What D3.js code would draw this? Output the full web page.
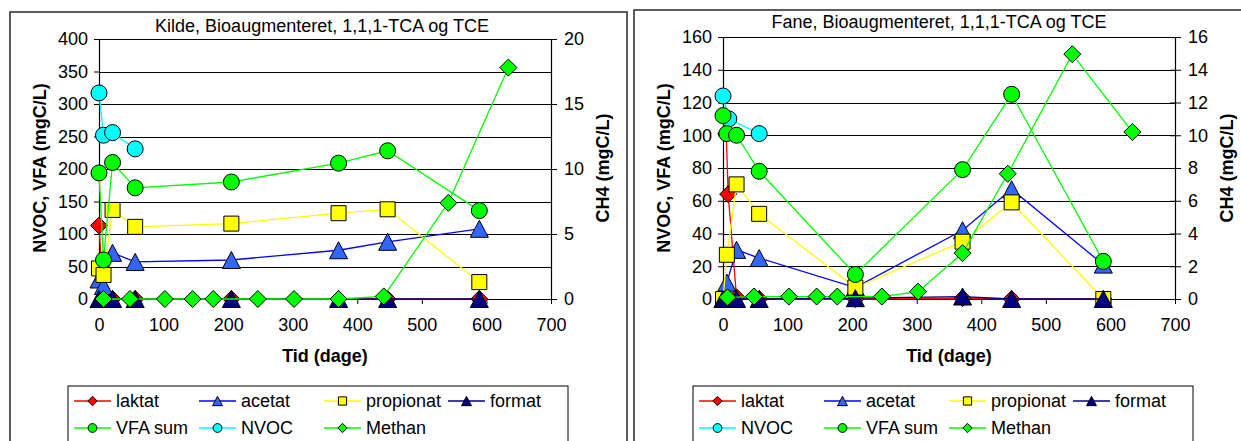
<!DOCTYPE html>
<html>
<head>
<meta charset="utf-8">
<script src="https://cdn.jsdelivr.net/npm/d3@7"></script>
<style>
  html, body { margin: 0; padding: 0; background: #fff; }
  svg { display: block; }
  text { font-family: "Liberation Sans", Arial, sans-serif; fill: #000; }
</style>
</head>
<body>
<div id="chart"></div>
<script>
// ---------------- DATA ----------------
const xTickValues = [0, 100, 200, 300, 400, 500, 600, 700];

// Kilde (left panel)
const kildeDays      = [0, 7, 21, 56, 205, 371, 447, 589];
const kildeLaktat    = [113, 1, 0, 0, 0, 0, 0, 0];
const kildeAcetat    = [30, 20, 71, 57, 60, 75, 88, 108];
const kildePropionat = [47, 37, 137, 111, 116, 132, 138, 26];
const kildeFormat    = [0, 0, 0, 0, 0, 0, 0, 0];
const kildeVFA       = [194, 60, 210, 171, 180, 209, 228, 136];
const kildeNVOCDays  = [0, 7, 21, 56];
const kildeNVOC      = [317, 252, 256, 231];
const kildeMethanDays = [7, 48, 102, 145, 177, 246, 302, 371, 441, 541, 634];
const kildeMethan     = [0, 0, 0, 0, 0, 0, 0, 0, 0.2, 7.4, 17.8];
const kildeYTicks  = [0, 50, 100, 150, 200, 250, 300, 350, 400];
const kildeY2Ticks = [0, 5, 10, 15, 20];

// Fane (right panel)
const faneDays       = [0, 6, 21, 56, 205, 371, 447, 589];
const faneLaktatDays = [5, 8, 21, 56, 205, 371, 447, 589];
const faneLaktat     = [101, 64, 1, 0, 0, 0.5, 0, 0];
const faneAcetat     = [0, 10, 30, 25, 7, 42, 67, 21];
const fanePropionat  = [0, 27, 70, 52, 7, 35, 59, 0];
const faneFormat     = [0, 0, 0, 0, 0.5, 1.5, 0, 0];
const faneNVOCDays   = [0, 9, 56];
const faneNVOC       = [124, 110, 101];
const faneVFA        = [112, 101, 100, 78, 15, 79, 125, 23];
const faneMethanDays = [7, 48, 102, 145, 177, 246, 302, 371, 441, 541, 634];
const faneMethan     = [0.1, 0.15, 0.15, 0.15, 0.15, 0.15, 0.45, 2.8, 7.65, 14.95, 10.2];
const faneYTicks  = [0, 20, 40, 60, 80, 100, 120, 140, 160];
const faneY2Ticks = [0, 2, 4, 6, 8, 10, 12, 14, 16];

// ---------------- STYLES ----------------
const STY = {
  laktat:    { stroke: "#FF0000", fill: "#FF0000", shape: "diamond" },
  acetat:    { stroke: "#0000FF", fill: "#3366FF", shape: "triangle" },
  propionat: { stroke: "#FFFF00", fill: "#FFFF00", shape: "square" },
  format:    { stroke: "#000080", fill: "#000080", shape: "triangle" },
  vfa:       { stroke: "#00FF00", fill: "#00FF00", shape: "circle" },
  nvoc:      { stroke: "#00FFFF", fill: "#00FFFF", shape: "circle" },
  methan:    { stroke: "#00FF00", fill: "#00FF00", shape: "diamond" }
};

const W = 1241, H = 441;
const FS = 18;
const svg = d3.select("#chart").append("svg").attr("width", W).attr("height", H);

function markerPath(shape, big) {
  const s = big ? 1 : 0.55;
  if (shape === "diamond") { const w = 17 * s, h = 17 * s; return `M0,${-h/2}L${w/2},0L0,${h/2}L${-w/2},0Z`; }
  if (shape === "triangle") { const w = 18 * s, h = 17 * s; return `M0,${-h/2}L${w/2},${h/2}L${-w/2},${h/2}Z`; }
  if (shape === "square") { const a = 15 * s; return `M${-a/2},${-a/2}h${a}v${a}h${-a}Z`; }
  const r = 8 * s;
  return `M${r},0A${r},${r},0,1,1,${-r},0A${r},${r},0,1,1,${r},0Z`;
}

function zip(xs, ys) { return xs.map((d, i) => [d, ys[i]]); }

function drawPanel(cfg) {
  const g = svg.append("g");
  const x0 = cfg.plotLeft, x1 = cfg.plotLeft + 452, yTop = cfg.plotTop, yBot = 299;

  // frame
  g.append("rect").attr("x", cfg.frameLeft).attr("y", cfg.frameTop)
    .attr("width", cfg.frameRight - cfg.frameLeft).attr("height", H + 10 - cfg.frameTop)
    .attr("fill", "#fff").attr("stroke", "#333").attr("stroke-width", 1.6);

  const x = d3.scaleLinear().domain([0, 700]).range([x0, x1]);
  const y = d3.scaleLinear().domain([0, d3.max(cfg.yTicks)]).range([yBot, yTop]);
  const y2 = d3.scaleLinear().domain([0, d3.max(cfg.y2Ticks)]).range([yBot, yTop]);

  // gridlines
  g.selectAll(".grid").data(cfg.yTicks.filter(v => v > 0)).enter().append("line")
    .attr("x1", x0).attr("x2", x1).attr("y1", d => Math.round(y(d)) + 0.5).attr("y2", d => Math.round(y(d)) + 0.5)
    .attr("stroke", "#000").attr("stroke-width", 1);

  // left axis
  const ax = g.append("g").attr("transform", `translate(${x0},0)`)
    .call(d3.axisLeft(y).tickValues(cfg.yTicks).tickSizeInner(5).tickSizeOuter(0).tickPadding(6));
  // right axis
  const ax2 = g.append("g").attr("transform", `translate(${x1},0)`)
    .call(d3.axisRight(y2).tickValues(cfg.y2Ticks).tickSizeInner(6).tickSizeOuter(0).tickPadding(7));
  ax2.selectAll(".tick line").attr("x1", -5);
  // bottom axis
  const axb = g.append("g").attr("transform", `translate(0,${yBot})`)
    .call(d3.axisBottom(x).tickValues(xTickValues).tickSizeInner(5).tickSizeOuter(0).tickPadding(14));
  [ax, ax2, axb].forEach(a => {
    a.selectAll("path.domain").attr("stroke", "#000").attr("stroke-width", 1.2);
    a.selectAll(".tick line").attr("stroke", "#000");
    a.selectAll(".tick text").attr("font-size", FS).attr("font-family", '"Liberation Sans", Arial, sans-serif');
  });

  // series
  cfg.series.forEach(s => {
    const sc = s.axis === "y2" ? y2 : y;
    const pts = zip(s.days, s.values);
    const st = STY[s.key];
    g.append("path").datum(pts)
      .attr("d", d3.line().x(d => x(d[0])).y(d => sc(d[1])))
      .attr("fill", "none").attr("stroke", st.stroke).attr("stroke-width", 1.3);
    g.selectAll(null).data(pts).enter().append("path")
      .attr("d", markerPath(st.shape, true))
      .attr("transform", d => `translate(${x(d[0])},${sc(d[1])})`)
      .attr("fill", st.fill).attr("stroke", "#000").attr("stroke-width", 1);
  });

  // titles
  g.append("text").attr("x", cfg.titleX).attr("y", cfg.titleY).attr("text-anchor", "middle")
    .attr("font-size", FS).text(cfg.title);
  g.append("text").attr("x", (x0 + x1) / 2).attr("y", 362).attr("text-anchor", "middle")
    .attr("font-size", FS).attr("font-weight", "bold").text("Tid (dage)");
  g.append("text").attr("transform", `translate(${cfg.frameLeft + 30},168) rotate(-90)`)
    .attr("text-anchor", "middle").attr("dy", "0.35em")
    .attr("font-size", FS).attr("font-weight", "bold").text("NVOC, VFA (mgC/L)");
  g.append("text").attr("transform", `translate(${x1 + 52},168) rotate(-90)`)
    .attr("text-anchor", "middle").attr("dy", "0.35em")
    .attr("font-size", FS).attr("font-weight", "bold").text("CH4 (mgC/L)");

  // legend
  const lx = cfg.legendLeft;
  g.append("rect").attr("x", lx).attr("y", 386).attr("width", 500).attr("height", 80)
    .attr("fill", "#fff").attr("stroke", "#000").attr("stroke-width", 1);
  const cols = [6, 131, 256, 380];
  const rows = [401, 428];
  cfg.legend.forEach((item, i) => {
    const cx = lx + cols[i % 4], cy = rows[Math.floor(i / 4)];
    const st = STY[item.key];
    g.append("line").attr("x1", cx).attr("x2", cx + 37).attr("y1", cy).attr("y2", cy)
      .attr("stroke", st.stroke).attr("stroke-width", 1.3);
    g.append("path").attr("d", markerPath(st.shape, false))
      .attr("transform", `translate(${cx + 18.5},${cy})`)
      .attr("fill", st.fill).attr("stroke", "#000").attr("stroke-width", 1);
    g.append("text").attr("x", cx + 42).attr("y", cy).attr("dy", "0.36em")
      .attr("font-size", FS).text(item.name);
  });
}

drawPanel({
  frameLeft: 10, frameRight: 627, frameTop: 12,
  plotLeft: 99, plotTop: 39,
  titleX: 322, titleY: 32,
  title: "Kilde, Bioaugmenteret, 1,1,1-TCA og TCE",
  yTicks: kildeYTicks, y2Ticks: kildeY2Ticks,
  legendLeft: 68,
  series: [
    { key: "laktat", days: kildeDays, values: kildeLaktat },
    { key: "acetat", days: kildeDays, values: kildeAcetat },
    { key: "propionat", days: kildeDays, values: kildePropionat },
    { key: "format", days: kildeDays, values: kildeFormat },
    { key: "vfa", days: kildeDays, values: kildeVFA },
    { key: "nvoc", days: kildeNVOCDays, values: kildeNVOC },
    { key: "methan", days: kildeMethanDays, values: kildeMethan, axis: "y2" }
  ],
  legend: [
    { key: "laktat", name: "laktat" }, { key: "acetat", name: "acetat" },
    { key: "propionat", name: "propionat" }, { key: "format", name: "format" },
    { key: "vfa", name: "VFA sum" }, { key: "nvoc", name: "NVOC" }, { key: "methan", name: "Methan" }
  ]
});

drawPanel({
  frameLeft: 634, frameRight: 1250, frameTop: 10,
  plotLeft: 723, plotTop: 37,
  titleX: 939, titleY: 28,
  title: "Fane, Bioaugmenteret, 1,1,1-TCA og TCE",
  yTicks: faneYTicks, y2Ticks: faneY2Ticks,
  legendLeft: 693,
  series: [
    { key: "laktat", days: faneLaktatDays, values: faneLaktat },
    { key: "acetat", days: faneDays, values: faneAcetat },
    { key: "propionat", days: faneDays, values: fanePropionat },
    { key: "format", days: faneDays, values: faneFormat },
    { key: "nvoc", days: faneNVOCDays, values: faneNVOC },
    { key: "vfa", days: faneDays, values: faneVFA },
    { key: "methan", days: faneMethanDays, values: faneMethan, axis: "y2" }
  ],
  legend: [
    { key: "laktat", name: "laktat" }, { key: "acetat", name: "acetat" },
    { key: "propionat", name: "propionat" }, { key: "format", name: "format" },
    { key: "nvoc", name: "NVOC" }, { key: "vfa", name: "VFA sum" }, { key: "methan", name: "Methan" }
  ]
});
</script>
</body>
</html>
